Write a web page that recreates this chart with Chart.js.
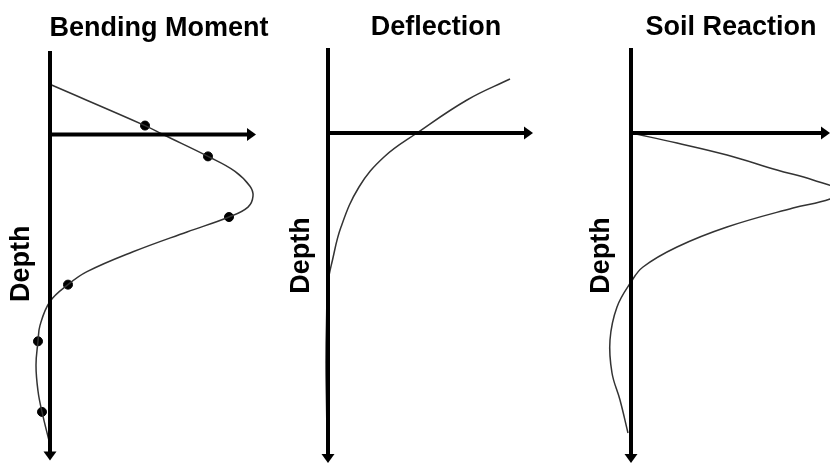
<!DOCTYPE html>
<html>
<head>
<meta charset="utf-8">
<script src="https://cdn.jsdelivr.net/npm/chart.js@4/dist/chart.umd.min.js"></script>
<style>
  html, body { margin:0; padding:0; background:#fff; overflow:hidden; width:830px; height:466px; }
  canvas { position:absolute; top:0; }
</style>
</head>
<body>
<canvas id="c1" width="326" height="482" style="left:0px"></canvas>
<canvas id="c2" width="320" height="466" style="left:280px"></canvas>
<canvas id="c3" width="310" height="466" style="left:580px"></canvas>
<script>
// ---- Data (arbitrary units, depth positive downward) ----
const panelTitles = ["Bending Moment", "Deflection", "Soil Reaction"];
const depthLabel = "Depth";

// Bending moment curve
const bmDepth  = [-5.0, -0.9, 0.0, 2.2, 3.7, 5.2, 6.2, 7.3, 8.3, 9.8, 11.8, 13.8, 15.1, 16.8, 19.2, 20.8, 23.2, 25.8, 27.9, 31.2];
const bmMoment = [ 0.1,  9.5, 11.3, 15.8, 18.5, 20.0, 20.3, 19.8, 17.9, 13.7, 8.3, 3.7, 1.8, 0.0, -1.0, -1.2, -1.4, -1.2, -0.8, 0.0];
// Bending moment marked points
const bmMarkDepth  = [-0.9, 2.2, 8.3, 15.1, 20.8, 27.9];
const bmMarkMoment = [ 9.5, 15.8, 17.9, 1.8, -1.2, -0.8];

// Deflection curve
const defDepth = [-5.4, -3.3, 0.0, 2.4, 5.4, 9.4, 12.7, 15.0, 19.0, 23.0, 27.0, 30.0];
const defValue = [18.2, 13.9, 8.9, 5.6, 3.1, 1.3, 0.45, 0.0, -0.15, -0.2, -0.15, -0.1];

// Soil reaction curve
const soilDepth = [0.0, 1.0, 2.2, 3.7, 4.7, 5.8, 6.6, 7.5, 9.4, 11.4, 13.4, 14.9, 17.4, 20.7, 24.0, 26.7, 30.0];
const soilValue = [0.0, 4.6, 9.6, 14.6, 18.2, 21.0, 19.9, 16.2, 9.6, 4.6, 1.2, 0.0, -1.4, -2.1, -1.9, -1.1, -0.3];

const toPts = (xs, ys) => xs.map((v, i) => ({x: v, y: ys[i]}));

const FONT = '"Liberation Sans", Arial, Helvetica, sans-serif';

const axesArrows = {
  id: 'axesArrows',
  afterDatasetsDraw(chart, args, opts) {
    const {ctx, chartArea, scales} = chart;
    const x0 = scales.x.getPixelForValue(0);
    const y0 = scales.y.getPixelForValue(0);
    const xEnd = scales.x.getPixelForValue(opts.xEnd);
    const top = chartArea.top;
    const bot = scales.y.getPixelForValue(opts.yEnd);
    ctx.save();
    ctx.strokeStyle = '#000';
    ctx.fillStyle = '#000';
    ctx.lineWidth = 4;
    ctx.lineCap = 'butt';
    // vertical (depth) axis
    ctx.beginPath();
    ctx.moveTo(x0, top);
    ctx.lineTo(x0, bot - 6);
    ctx.stroke();
    ctx.beginPath();
    ctx.moveTo(x0 - 6.5, bot - 9);
    ctx.lineTo(x0 + 6.5, bot - 9);
    ctx.lineTo(x0, bot);
    ctx.closePath();
    ctx.fill();
    // horizontal axis
    ctx.beginPath();
    ctx.moveTo(x0 - 2, y0);
    ctx.lineTo(xEnd - 6, y0);
    ctx.stroke();
    ctx.beginPath();
    ctx.moveTo(xEnd - 9, y0 - 6.5);
    ctx.lineTo(xEnd - 9, y0 + 6.5);
    ctx.lineTo(xEnd, y0);
    ctx.closePath();
    ctx.fill();
    ctx.restore();
  }
};

function makePanel(id, title, datasets, cfg) {
  new Chart(document.getElementById(id), {
    type: 'scatter',
    data: { datasets },
    plugins: [axesArrows],
    options: {
      responsive: false,
      animation: false,
      devicePixelRatio: 1,
      layout: { padding: { left: 0, right: 8, top: 0, bottom: 3 } },
      plugins: {
        legend: { display: false },
        tooltip: { enabled: false },
        title: {
          display: true, text: title, color: '#000',
          font: { family: FONT, size: 27, weight: 'bold' },
          padding: { top: cfg.titleTop, bottom: cfg.titleBottom }
        },
        axesArrows: { xEnd: cfg.xEnd, yEnd: cfg.yEnd }
      },
      scales: {
        x: { type: 'linear', display: false, min: cfg.xMin, max: cfg.xMax },
        y: {
          type: 'linear', reverse: true, min: cfg.yMin, max: cfg.yMax,
          grid: { display: false, drawTicks: false },
          border: { display: false },
          ticks: { display: false },
          title: {
            display: true, text: depthLabel, color: '#000',
            font: { family: FONT, size: 27, weight: 'bold' },
            padding: { top: 5.8, bottom: 0 }
          }
        }
      }
    }
  });
}

const curveStyle = {
  showLine: true, borderColor: '#333', borderWidth: 1.5, pointRadius: 0,
  tension: 0.4, clip: false, fill: false
};

makePanel('c1', panelTitles[0], [
  Object.assign({ data: toPts(bmMoment, bmDepth) }, curveStyle),
  { data: toPts(bmMarkMoment, bmMarkDepth), showLine: false, pointRadius: 4.5,
    pointBackgroundColor: '#000', pointBorderColor: '#000', clip: false }
], { titleTop: 12.2, titleBottom: 6.4, xMin: -1.18, xMax: 26.8, yMin: -8.4, yMax: 34.4, yEnd: 32.8, xEnd: 20.6 });

makePanel('c2', panelTitles[1], [
  Object.assign({ data: toPts(defValue, defDepth) }, curveStyle)
], { titleTop: 10.9, titleBottom: 4.7, xMin: -0.98, xMax: 26.4, yMin: -8.5, yMax: 33.0, yEnd: 33.0, xEnd: 20.5 });

makePanel('c3', panelTitles[2], [
  Object.assign({ data: toPts(soilValue, soilDepth) }, curveStyle)
], { titleTop: 10.9, titleBottom: 4.7, xMin: -1.28, xMax: 25.1, yMin: -8.5, yMax: 33.0, yEnd: 33.0, xEnd: 19.9 });
</script>
</body>
</html>
